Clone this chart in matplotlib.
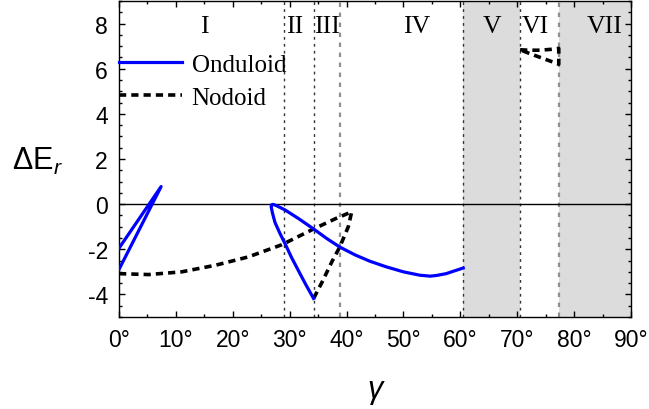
import numpy as np
import matplotlib
matplotlib.use('Agg')
import matplotlib.pyplot as plt

plt.rcParams['font.family'] = ['Liberation Sans', 'DejaVu Sans']
plt.rcParams['mathtext.fontset'] = 'custom'
plt.rcParams['mathtext.rm'] = 'Liberation Sans'
plt.rcParams['mathtext.it'] = 'Liberation Sans:italic'
plt.rcParams['axes.unicode_minus'] = False

# onduloid branches (gamma in degrees, Delta E_r)
ond1_x = [0, 7.4, 0]
ond1_y = [-1.95, 0.78, -2.89]
ond2_x = [34.2, 32.8, 31.5, 30.3, 29.2, 28.2, 27.4, 26.95, 26.75, 26.8, 27.1, 27.7, 29.2, 31.5, 34.2, 36.5,
          38.8, 41.5, 44.1, 47.0, 50.0, 52.9, 54.7, 55.8, 57.5, 58.8, 60.5]
ond2_y = [-4.18, -3.55, -2.93, -2.35, -1.76, -1.25, -0.8, -0.37, -0.12, -0.03, -0.01, -0.07, -0.26, -0.63,
          -1.1, -1.52, -1.9, -2.25, -2.53, -2.78, -3.0, -3.15, -3.19, -3.16, -3.08, -2.97, -2.83]

# nodoid branches
nod1_x = [0, 5.2, 11.0, 16.9, 22.7, 28.6, 34.2, 38.0, 40.9, 40.3, 38.8, 37.4, 35.8, 34.2]
nod1_y = [-3.08, -3.12, -3.0, -2.71, -2.34, -1.8, -1.1, -0.65, -0.34, -1.0, -1.9, -2.56, -3.4, -4.18]
nod2_x = [70.5, 72.0, 74.0, 76.0, 77.3, 77.3, 74.6, 72.2, 70.5]
nod2_y = [6.84, 6.82, 6.82, 6.86, 6.9, 6.2, 6.45, 6.67, 6.84]

# region boundaries
bounds_dark = [29.0, 34.2, 60.5, 70.5]
bounds_gray = [38.8, 77.3]
shaded = [(60.5, 70.5), (77.3, 90.0)]

region_names = ['I', 'II', 'III', 'IV', 'V', 'VI', 'VII']
region_pos = [15.0, 30.9, 36.5, 52.3, 65.5, 73.2, 85.4]

xticks = [0, 10, 20, 30, 40, 50, 60, 70, 80, 90]
xtick_labels = [f'{t}°' for t in xticks]
yticks = [-4, -2, 0, 2, 4, 6, 8]

fig = plt.figure(figsize=(6.49, 4.10), dpi=100)
ax = fig.add_axes([0.1834, 0.2244, 0.7889, 0.7707])

for a, b in shaded:
    ax.axvspan(a, b, color='#dcdcdc', lw=0, zorder=0)
for xv in bounds_dark:
    ax.axvline(xv, color='#333333', lw=1.0, dashes=(2, 3), zorder=1)
for xv in bounds_gray:
    ax.axvline(xv, color='#909090', lw=1.6, dashes=(2, 2.5), zorder=1)
ax.axhline(0, color='black', lw=1.0, zorder=1)

ax.plot(ond1_x, ond1_y, color='#0000ff', lw=2.3, zorder=3, label='Onduloid')
ax.plot(ond2_x, ond2_y, color='#0000ff', lw=2.3, zorder=3, solid_joinstyle='round')
ax.plot(nod1_x, nod1_y, color='black', lw=2.6, dashes=(2, 1.4), zorder=2, label='Nodoid')
ax.plot(nod2_x, nod2_y, color='black', lw=2.6, dashes=(2, 1.4), zorder=2)

for name, xp in zip(region_names, region_pos):
    ax.text(xp, 7.9, name, family='Liberation Serif', fontsize=18.5, ha='center', va='center')

leg = ax.legend(loc='upper left', bbox_to_anchor=(0, 0.835), frameon=False,
                prop={'family': 'Liberation Serif', 'size': 18},
                handlelength=2.5, handletextpad=0.4, borderpad=0, borderaxespad=0,
                labelspacing=0.42)

ax.set_xlim(0, 90)
ax.set_ylim(-5, 9)
ax.set_xticks(xticks)
ax.set_xticklabels(xtick_labels)
ax.set_xticks(np.arange(5, 90, 10), minor=True)
ax.set_yticks(yticks)
ax.set_yticks(np.arange(-5, 9.01, 0.5), minor=True)
ax.tick_params(which='both', direction='in', top=True, right=True, labelsize=16.5, width=1)
ax.tick_params(which='major', length=4.5, pad=8)
ax.tick_params(which='minor', length=2.3)
for s in ax.spines.values():
    s.set_linewidth(1.0)

ax.set_ylabel('ΔE$_r$', fontsize=22, rotation=0, ha='center', va='center')
ax.yaxis.set_label_coords(-0.16, 0.494)
ax.set_xlabel('γ', fontsize=22, fontstyle='italic', va='center')
ax.xaxis.set_label_coords(0.5, -0.228)

fig.savefig('out.png', dpi=100)
